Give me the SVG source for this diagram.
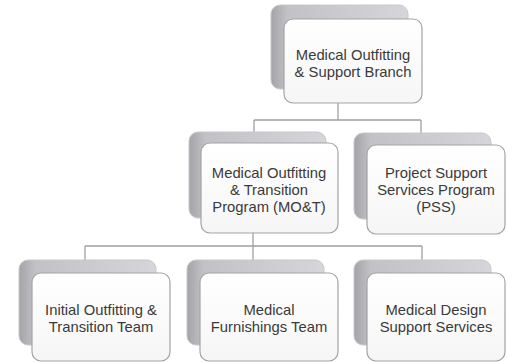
<svg xmlns="http://www.w3.org/2000/svg" width="508" height="362" viewBox="0 0 508 362">
<defs>
<linearGradient id="backH" x1="0" y1="0" x2="1" y2="0">
<stop offset="0" stop-color="#a4a4a8"/>
<stop offset="0.12" stop-color="#c2c2c6"/>
<stop offset="1" stop-color="#d6d6da"/>
</linearGradient>
<linearGradient id="frontG" x1="0" y1="0" x2="0" y2="1">
<stop offset="0" stop-color="#ffffff"/>
<stop offset="1" stop-color="#f6f6f6"/>
</linearGradient>
</defs>
<style>
.back{fill:url(#backH);stroke:#c8c8cc;stroke-width:1}
.front{fill:url(#frontG);stroke:#a3a3a3;stroke-width:1.2}
.conn{fill:none;stroke:#a0a0a4;stroke-width:1.3}
text{font-family:"Liberation Sans",Arial,sans-serif;font-size:14.8px;fill:#3a3a3a;text-anchor:middle}
</style>
<rect width="508" height="362" fill="#ffffff"/>
<g id="connectors">
<path class="conn" d="M338,103 V120 M254,120 H421 M254,120 V132 M421,120 V133"/>
<path class="conn" d="M253,233 V246 M85,246 H422 M85,246 V260 M253,246 V260 M422,246 V260"/>
</g>
<g id="node-branch">
<rect class="back" x="271" y="5" width="137" height="84" rx="9"/>
<rect class="front" x="284" y="19" width="138" height="84" rx="9"/>
<text x="353" y="60">Medical Outfitting</text>
<text x="353" y="77">&amp; Support Branch</text>
</g>
<g id="node-mot">
<rect class="back" x="189" y="132" width="137" height="86" rx="9"/>
<rect class="front" x="201" y="143" width="137" height="90" rx="9"/>
<text x="269" y="178">Medical Outfitting</text>
<text x="269" y="195">&amp; Transition</text>
<text x="269" y="212">Program (MO&amp;T)</text>
</g>
<g id="node-pss">
<rect class="back" x="354" y="133" width="137" height="86" rx="9"/>
<rect class="front" x="367" y="145" width="138" height="89" rx="9"/>
<text x="436" y="178">Project Support</text>
<text x="436" y="195">Services Program</text>
<text x="436" y="212">(PSS)</text>
</g>
<g id="node-iot">
<rect class="back" x="19" y="260" width="137" height="85" rx="9"/>
<rect class="front" x="32" y="273" width="138" height="88" rx="9"/>
<text x="101" y="315">Initial Outfitting &amp;</text>
<text x="101" y="332">Transition Team</text>
</g>
<g id="node-mft">
<rect class="back" x="187" y="260" width="137" height="85" rx="9"/>
<rect class="front" x="200" y="273" width="138" height="88" rx="9"/>
<text x="269" y="315">Medical</text>
<text x="269" y="332">Furnishings Team</text>
</g>
<g id="node-mdss">
<rect class="back" x="354" y="260" width="137" height="85" rx="9"/>
<rect class="front" x="367" y="273" width="138" height="88" rx="9"/>
<text x="436" y="315">Medical Design</text>
<text x="436" y="332">Support Services</text>
</g>
</svg>
